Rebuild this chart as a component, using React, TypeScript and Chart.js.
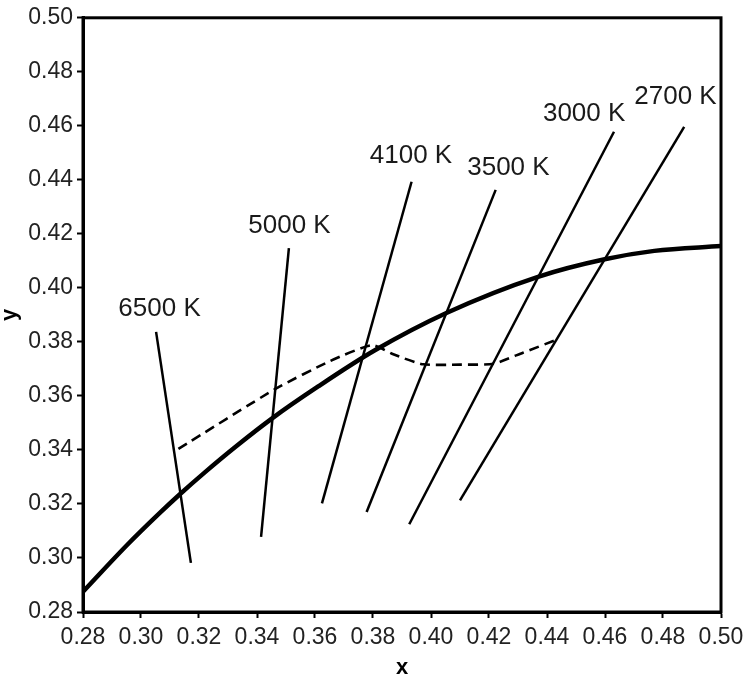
import React, { useEffect, useRef } from "react";
import { Chart, registerables } from "chart.js";

Chart.register(...registerables);

const FONT = '"Liberation Sans", Arial, Helvetica, sans-serif';

// Planckian locus (thick curve)
const locusX = [0.28, 0.2952, 0.3064, 0.3135, 0.3221, 0.3324, 0.3451, 0.3611, 0.3805, 0.4053, 0.4369, 0.4599, 0.477, 0.5];
const locusY = [0.2875, 0.3048, 0.3166, 0.3237, 0.3318, 0.341, 0.3516, 0.3635, 0.3768, 0.3907, 0.4041, 0.4106, 0.4137, 0.4155];

// Dashed curve
const dashX = [0.3129, 0.3462, 0.3652, 0.3797, 0.387, 0.3973, 0.41, 0.4215, 0.4317, 0.4428];
const dashY = [0.3404, 0.3625, 0.3729, 0.3788, 0.3754, 0.3717, 0.3716, 0.3719, 0.376, 0.3806];

// Isotemperature lines
const cctNames = ["6500 K", "5000 K", "4100 K", "3500 K", "3000 K", "2700 K"];
const isoTopX = [0.3052, 0.351, 0.3933, 0.4223, 0.4631, 0.4873];
const isoTopY = [0.3837, 0.4147, 0.4393, 0.4363, 0.4578, 0.4596];
const isoBottomX = [0.3172, 0.3414, 0.3624, 0.3778, 0.3925, 0.41];
const isoBottomY = [0.2982, 0.3078, 0.3202, 0.317, 0.3125, 0.3213];

// Label anchors (data coordinates)
const labelX = [0.3064, 0.3512, 0.3931, 0.4267, 0.4528, 0.4843];
const labelY = [0.3921, 0.4229, 0.4489, 0.4443, 0.4645, 0.4709];

// Ticks
const xTicks = [0.28, 0.3, 0.32, 0.34, 0.36, 0.38, 0.4, 0.42, 0.44, 0.46, 0.48, 0.5];
const yTicks = [0.28, 0.3, 0.32, 0.34, 0.36, 0.38, 0.4, 0.42, 0.44, 0.46, 0.48, 0.5];

export default function App() {
  const ref = useRef<HTMLCanvasElement>(null);

  useEffect(() => {
    const canvas = ref.current;
    if (!canvas) return;

    const datasets: any[] = [
      {
        label: "locus",
        data: locusX.map((x, i) => ({ x, y: locusY[i] })),
        borderColor: "#000",
        borderWidth: 4.5,
        showLine: true,
        pointRadius: 0,
        cubicInterpolationMode: "monotone",
      },
      {
        label: "dashed",
        data: dashX.map((x, i) => ({ x, y: dashY[i] })),
        borderColor: "#000",
        borderWidth: 2.6,
        borderDash: [10, 6],
        showLine: true,
        pointRadius: 0,
        tension: 0.2,
      },
      ...cctNames.map((name, i) => ({
        label: name,
        data: [
          { x: isoTopX[i], y: isoTopY[i] },
          { x: isoBottomX[i], y: isoBottomY[i] },
        ],
        borderColor: "#000",
        borderWidth: 2.5,
        showLine: true,
        pointRadius: 0,
      })),
    ];

    const framePlugin = {
      id: "frame",
      afterDatasetsDraw(chart: any) {
        const { ctx, chartArea } = chart;
        const { left, top, right, bottom } = chartArea;
        ctx.save();
        ctx.strokeStyle = "#000";
        ctx.lineWidth = 3;
        ctx.strokeRect(left, top, right - left, bottom - top);
        ctx.restore();
      },
    };

    const labelPlugin = {
      id: "cctLabels",
      afterDatasetsDraw(chart: any) {
        const { ctx } = chart;
        const xs = chart.scales.x;
        const ys = chart.scales.y;
        ctx.save();
        ctx.font = `26px ${FONT}`;
        ctx.fillStyle = "#1a1a1a";
        ctx.textAlign = "center";
        ctx.textBaseline = "middle";
        cctNames.forEach((name, i) => {
          ctx.fillText(name, xs.getPixelForValue(labelX[i]), ys.getPixelForValue(labelY[i]));
        });
        ctx.restore();
      },
    };

    const tickFont = { family: FONT, size: 23 };

    const chart = new Chart(canvas, {
      type: "scatter",
      data: { datasets },
      options: {
        animation: false,
        responsive: false,
        maintainAspectRatio: false,
        layout: { padding: { top: 15.5, right: 29, bottom: 0, left: 0 } },
        plugins: { legend: { display: false }, tooltip: { enabled: false } },
        scales: {
          x: {
            type: "linear",
            min: 0.28,
            max: 0.5,
            afterBuildTicks: (s: any) => {
              s.ticks = xTicks.map((v) => ({ value: v }));
            },
            afterFit: (s: any) => {
              s.height = 68;
            },
            ticks: {
              callback: (v: any) => Number(v).toFixed(2),
              font: tickFont,
              color: "#222",
              padding: 6,
              maxRotation: 0,
              autoSkip: false,
            },
            grid: {
              display: true,
              drawOnChartArea: false,
              drawTicks: true,
              tickLength: 6,
              tickWidth: 2,
              tickColor: "#000",
            },
            border: { display: true, color: "#000", width: 3 },
            title: {
              display: true,
              text: "x",
              color: "#000",
              font: { family: FONT, size: 22, weight: "bold" },
              padding: { top: 0, bottom: -1 },
            },
          },
          y: {
            type: "linear",
            min: 0.28,
            max: 0.5,
            afterBuildTicks: (s: any) => {
              s.ticks = yTicks.map((v) => ({ value: v }));
            },
            afterFit: (s: any) => {
              s.width = 83;
            },
            ticks: {
              callback: (v: any) => Number(v).toFixed(2),
              font: tickFont,
              color: "#222",
              padding: 4,
              autoSkip: false,
            },
            grid: {
              display: true,
              drawOnChartArea: false,
              drawTicks: true,
              tickLength: 6,
              tickWidth: 2,
              tickColor: "#000",
            },
            border: { display: true, color: "#000", width: 3 },
            title: {
              display: true,
              text: "y",
              color: "#000",
              font: { family: FONT, size: 22, weight: "bold" },
              padding: { top: -3, bottom: 0 },
            },
          },
        },
      } as any,
      plugins: [framePlugin, labelPlugin],
    });

    return () => chart.destroy();
  }, []);

  return (
    <div style={{ position: "fixed", left: 0, top: 0, width: 750, height: 680, background: "#fff" }}>
      <canvas ref={ref} width={750} height={680} style={{ width: 750, height: 680, display: "block" }} />
    </div>
  );
}
